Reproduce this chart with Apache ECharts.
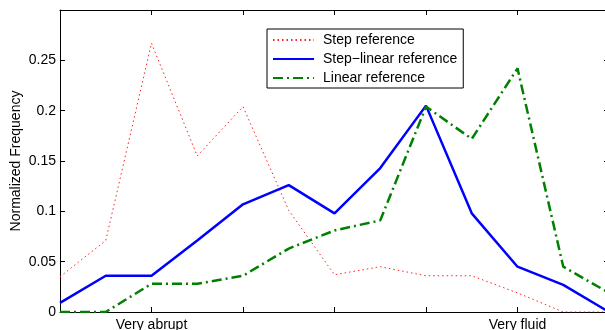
<!DOCTYPE html>
<html>
<head>
<meta charset="utf-8">
<script src="https://cdn.jsdelivr.net/npm/echarts@6/dist/echarts.min.js"></script>
<style>
  html, body { margin: 0; padding: 0; background: #fff; }
  #chart { width: 605px; height: 330px; }
</style>
</head>
<body>
<div id="chart"></div>
<script>
// bins along the x axis, only two of them carry a label
var bins = ['', '', 'Very abrupt', '', '', '', '', '', '', '', 'Very fluid', '', ''];

var stepRef       = [0.035, 0.071, 0.267, 0.155, 0.204, 0.101, 0.037, 0.045, 0.036, 0.036, 0.019, 0, 0];
var stepLinearRef = [0.009, 0.036, 0.036, 0.071, 0.107, 0.126, 0.098, 0.143, 0.205, 0.098, 0.045, 0.027, 0];
var linearRef     = [0, 0, 0.028, 0.028, 0.036, 0.063, 0.081, 0.091, 0.204, 0.172, 0.242, 0.045, 0.019];

var FONT = 'Liberation Sans, Arial, sans-serif';

var chart = echarts.init(document.getElementById('chart'));

var xAxisBase = function(pos, showLabel){
    return {
        type: 'category',
        position: pos,
        data: bins,
        boundaryGap: false,
        axisLine: { show: true, onZero: false, lineStyle: { color: '#000', width: 1 } },
        axisTick: { show: true, inside: true, interval: 1, length: 5, lineStyle: { color: '#000' } },
        axisLabel: { show: showLabel, interval: 0, color: '#000', fontFamily: FONT, fontSize: 14, margin: 6 },
        splitLine: { show: false }
    };
};

var yAxisBase = function(pos, showLabel){
    return {
        type: 'value',
        position: pos,
        min: 0,
        max: 0.3,
        interval: 0.05,
        axisLine: { show: true, onZero: false, lineStyle: { color: '#000', width: 1 } },
        axisTick: { show: true, inside: true, length: 5, lineStyle: { color: '#000' } },
        axisLabel: {
            show: showLabel, color: '#000', fontFamily: FONT, fontSize: 14, margin: 4,
            showMaxLabel: false
        },
        splitLine: { show: false }
    };
};

var yLeft = yAxisBase('left', true);
yLeft.name = 'Normalized Frequency';
yLeft.nameLocation = 'middle';
yLeft.nameGap = 37;
yLeft.nameMoveOverlap = false;
yLeft.nameTextStyle = { color: '#000', fontFamily: FONT, fontSize: 14 };

var option = {
    animation: false,
    backgroundColor: '#fff',
    grid: { left: 60, top: 10, right: -4, bottom: 18, outerBoundsMode: 'none' },
    legend: {
        orient: 'vertical',
        left: 267,
        top: 29,
        padding: [4, 6, 3, 5],
        itemWidth: 41,
        itemHeight: 14,
        itemGap: 5,
        borderColor: '#000',
        borderWidth: 1,
        backgroundColor: '#fff',
        itemStyle: { opacity: 0, borderWidth: 0 },
        textStyle: { color: '#000', fontFamily: FONT, fontSize: 14, padding: [0, 0, 0, 4] },
        data: ['Step reference', 'Step\u2212linear reference', 'Linear reference']
    },
    xAxis: [ xAxisBase('bottom', true), xAxisBase('top', false) ],
    yAxis: [ yLeft, yAxisBase('right', false) ],
    series: [
        {
            name: 'Step reference',
            type: 'line',
            data: stepRef,
            symbol: 'none',
            lineStyle: { color: '#ff2020', width: 1, type: [1.5, 3] },
            itemStyle: { color: '#ff2020' },
            z: 2
        },
        {
            name: 'Step\u2212linear reference',
            type: 'line',
            data: stepLinearRef,
            symbol: 'none',
            lineStyle: { color: '#0000ff', width: 2.5 },
            itemStyle: { color: '#0000ff' },
            z: 3
        },
        {
            name: 'Linear reference',
            type: 'line',
            data: linearRef,
            symbol: 'none',
            lineStyle: { color: '#008000', width: 2.5, type: [10, 4, 2, 4] },
            itemStyle: { color: '#008000' },
            z: 4
        }
    ]
};

chart.setOption(option);
</script>
</body>
</html>
